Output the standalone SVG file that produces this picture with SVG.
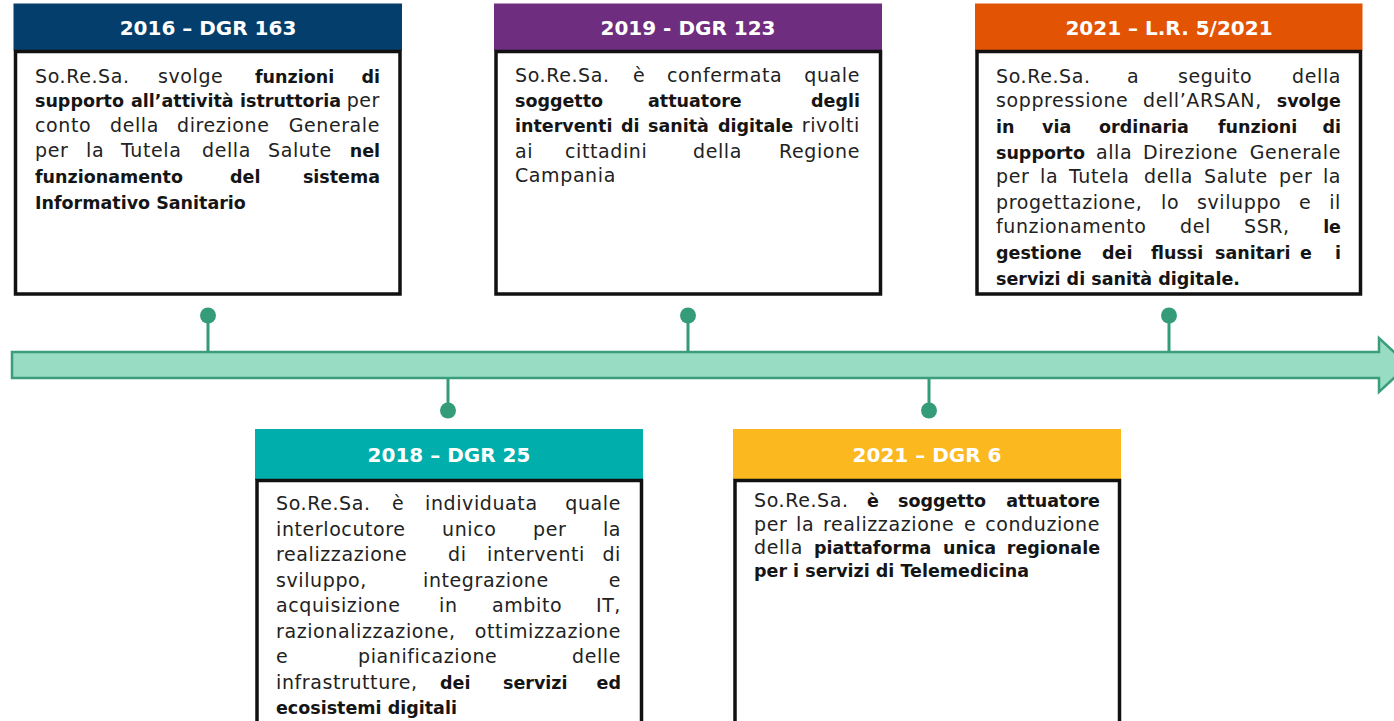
<svg xmlns="http://www.w3.org/2000/svg" width="1394" height="721" viewBox="0 0 1394 721">
<style>
.t{font-family:"DejaVu Sans","Liberation Sans",sans-serif;font-size:19px;letter-spacing:0.6px;fill:#222}
.b{font-weight:bold;font-size:17.5px;letter-spacing:0;fill:#151515}
.e{text-anchor:end}
.h{font-family:"DejaVu Sans","Liberation Sans",sans-serif;font-size:20px;font-weight:bold;fill:#fff;text-anchor:middle}
.body{fill:#fff;stroke:#111;stroke-width:3.5}
.pin{stroke:#359c79;stroke-width:3;fill:none}
.dot{fill:#359c79}
</style>
<rect width="1394" height="721" fill="#fff"/>
<g id="connectors">
<polygon points="12,352 1379,352 1379,338 1408,365 1379,392 1379,378 12,378" fill="#97dcc3" stroke="#3a9e7c" stroke-width="2.5"/>
<line class="pin" x1="208" y1="316" x2="208" y2="351"/>
<circle class="dot" cx="208" cy="315.5" r="8"/>
<line class="pin" x1="688" y1="316" x2="688" y2="351"/>
<circle class="dot" cx="688" cy="315.5" r="8"/>
<line class="pin" x1="1169" y1="316" x2="1169" y2="351"/>
<circle class="dot" cx="1169" cy="315.5" r="8"/>
<line class="pin" x1="448" y1="379" x2="448" y2="410"/>
<circle class="dot" cx="448" cy="410.5" r="8"/>
<line class="pin" x1="929" y1="379" x2="929" y2="410"/>
<circle class="dot" cx="929" cy="410.5" r="8"/>
</g>
<g id="n2016">
<rect x="13.5" y="3.5" width="388.5" height="47" fill="#033e6c"/>
<rect class="body" x="15.5" y="51.5" width="384.5" height="242.5"/>
<text class="h" x="208" y="35">2016 – DGR 163</text>
<text class="t" x="35" y="83">So.Re.Sa.</text><text class="t" x="158" y="83">svolge</text><text class="t b" x="255" y="83">funzioni</text><text class="t b e" x="380" y="83">di</text>
<text class="t b" x="35" y="107">supporto</text><text class="t b" x="131" y="107">all’attività</text><text class="t b" x="240" y="107">istruttoria</text><text class="t e" x="380" y="107">per</text>
<text class="t" x="35" y="132">conto</text><text class="t" x="110" y="132">della</text><text class="t" x="177" y="132">direzione</text><text class="t e" x="380" y="132">Generale</text>
<text class="t" x="35" y="157">per</text><text class="t" x="86" y="157">la</text><text class="t" x="121" y="157">Tutela</text><text class="t" x="202" y="157">della</text><text class="t" x="268" y="157">Salute</text><text class="t b e" x="380" y="157">nel</text>
<text class="t b" x="35" y="183">funzionamento</text><text class="t b" x="230" y="183">del</text><text class="t b e" x="380" y="183">sistema</text>
<text class="t b" x="35" y="209">Informativo Sanitario</text>
</g>
<g id="n2019">
<rect x="494" y="3.5" width="388" height="47" fill="#6f2d7f"/>
<rect class="body" x="496" y="51.5" width="384.5" height="242.5"/>
<text class="h" x="688" y="35">2019 - DGR 123</text>
<text class="t" x="515" y="82">So.Re.Sa.</text><text class="t" x="633" y="82">è</text><text class="t" x="667" y="82">confermata</text><text class="t e" x="860" y="82">quale</text>
<text class="t b" x="515" y="107">soggetto</text><text class="t b" x="648" y="107">attuatore</text><text class="t b e" x="860" y="107">degli</text>
<text class="t b" x="515" y="132">interventi</text><text class="t b" x="621" y="132">di</text><text class="t b" x="648" y="132">sanità</text><text class="t b" x="718" y="132">digitale</text><text class="t e" x="860" y="132">rivolti</text>
<text class="t" x="515" y="158">ai</text><text class="t" x="565" y="158">cittadini</text><text class="t" x="693" y="158">della</text><text class="t e" x="860" y="158">Regione</text>
<text class="t" x="515" y="182">Campania</text>
</g>
<g id="n2021lr">
<rect x="975" y="3.5" width="387.5" height="47" fill="#e35304"/>
<rect class="body" x="977" y="51.5" width="383.5" height="242.5"/>
<text class="h" x="1169" y="35">2021 – L.R. 5/2021</text>
<text class="t" x="996" y="83">So.Re.Sa.</text><text class="t" x="1127" y="83">a</text><text class="t" x="1178" y="83">seguito</text><text class="t e" x="1341" y="83">della</text>
<text class="t" x="996" y="107">soppressione</text><text class="t" x="1143" y="107">dell’ARSAN,</text><text class="t b e" x="1341" y="107">svolge</text>
<text class="t b" x="996" y="133">in</text><text class="t b" x="1042" y="133">via</text><text class="t b" x="1099" y="133">ordinaria</text><text class="t b" x="1218" y="133">funzioni</text><text class="t b e" x="1341" y="133">di</text>
<text class="t b" x="996" y="159">supporto</text><text class="t" x="1096" y="159">alla</text><text class="t" x="1143" y="159">Direzione</text><text class="t e" x="1341" y="159">Generale</text>
<text class="t" x="996" y="183">per</text><text class="t" x="1040" y="183">la</text><text class="t" x="1069" y="183">Tutela</text><text class="t" x="1144" y="183">della</text><text class="t" x="1204" y="183">Salute</text><text class="t" x="1279" y="183">per</text><text class="t e" x="1341" y="183">la</text>
<text class="t" x="996" y="209">progettazione,</text><text class="t" x="1161" y="209">lo</text><text class="t" x="1197" y="209">sviluppo</text><text class="t" x="1299" y="209">e</text><text class="t e" x="1341" y="209">il</text>
<text class="t" x="996" y="233">funzionamento</text><text class="t" x="1180" y="233">del</text><text class="t" x="1244" y="233">SSR,</text><text class="t b e" x="1341" y="233">le</text>
<text class="t b" x="996" y="259">gestione</text><text class="t b" x="1102" y="259">dei</text><text class="t b" x="1151" y="259">flussi</text><text class="t b" x="1215" y="259">sanitari</text><text class="t b" x="1300" y="259">e</text><text class="t b e" x="1341" y="259">i</text>
<text class="t b" x="996" y="285">servizi di sanità digitale.</text>
</g>
<g id="n2018">
<rect x="255" y="429" width="388" height="51" fill="#00aeab"/>
<rect class="body" x="257" y="480.5" width="384.5" height="260"/>
<text class="h" x="449" y="462">2018 – DGR 25</text>
<text class="t" x="276" y="510">So.Re.Sa.</text><text class="t" x="392" y="510">è</text><text class="t" x="425" y="510">individuata</text><text class="t e" x="621" y="510">quale</text>
<text class="t" x="276" y="536">interlocutore</text><text class="t" x="442" y="536">unico</text><text class="t" x="533" y="536">per</text><text class="t e" x="621" y="536">la</text>
<text class="t" x="276" y="561">realizzazione</text><text class="t" x="448" y="561">di</text><text class="t" x="487" y="561">interventi</text><text class="t e" x="621" y="561">di</text>
<text class="t" x="276" y="587">sviluppo,</text><text class="t" x="423" y="587">integrazione</text><text class="t e" x="621" y="587">e</text>
<text class="t" x="276" y="612">acquisizione</text><text class="t" x="439" y="612">in</text><text class="t" x="492" y="612">ambito</text><text class="t e" x="621" y="612">IT,</text>
<text class="t" x="276" y="638">razionalizzazione,</text><text class="t e" x="621" y="638">ottimizzazione</text>
<text class="t" x="276" y="663">e</text><text class="t" x="358" y="663">pianificazione</text><text class="t e" x="621" y="663">delle</text>
<text class="t" x="276" y="689">infrastrutture,</text><text class="t b" x="440" y="689">dei</text><text class="t b" x="503" y="689">servizi</text><text class="t b e" x="621" y="689">ed</text>
<text class="t b" x="276" y="714">ecosistemi digitali</text>
</g>
<g id="n2021dgr">
<rect x="733" y="429" width="388" height="51" fill="#fbb81f"/>
<rect class="body" x="735" y="480.5" width="384.5" height="260"/>
<text class="h" x="927" y="462">2021 – DGR 6</text>
<text class="t" x="754" y="507">So.Re.Sa.</text><text class="t b" x="867" y="507">è</text><text class="t b" x="898" y="507">soggetto</text><text class="t b e" x="1100" y="507">attuatore</text>
<text class="t" x="754" y="531">per</text><text class="t" x="796" y="531">la</text><text class="t" x="823" y="531">realizzazione</text><text class="t" x="964" y="531">e</text><text class="t e" x="1100" y="531">conduzione</text>
<text class="t" x="754" y="554">della</text><text class="t b" x="814" y="554">piattaforma</text><text class="t b" x="943" y="554">unica</text><text class="t b e" x="1100" y="554">regionale</text>
<text class="t b" x="754" y="577">per i servizi di Telemedicina</text>
</g>
</svg>
